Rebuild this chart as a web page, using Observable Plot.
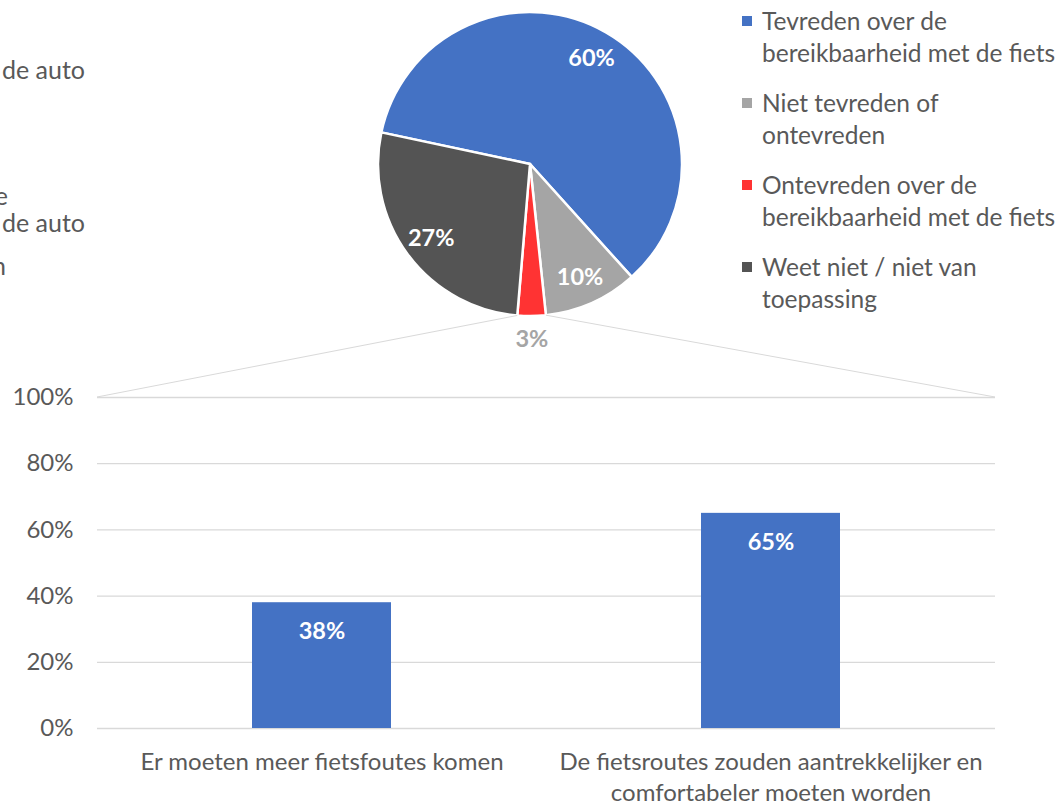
<!DOCTYPE html>
<html><head><meta charset="utf-8">
<script src="https://cdn.jsdelivr.net/npm/d3@7"></script>
<script src="https://cdn.jsdelivr.net/npm/@observablehq/plot@0.6"></script>
<style>
html,body{margin:0;padding:0;background:#fff;}
#chart svg{display:block;}
</style></head><body><div id="chart"></div>
<script>
// ---- data ----
const pieCategories = ["Tevreden over de bereikbaarheid met de fiets","Niet tevreden of ontevreden","Ontevreden over de bereikbaarheid met de fiets","Weet niet / niet van toepassing"];
const legendLines = [["Tevreden over de","bereikbaarheid met de fiets"],["Niet tevreden of","ontevreden"],["Ontevreden over de","bereikbaarheid met de fiets"],["Weet niet / niet van","toepassing"]];
const pieValues = [0.60, 0.10, 0.03, 0.27];
const pieColors = ["#4472C4","#A5A5A5","#FF3333","#545454"];
const barCategories = ["Er moeten meer fietsfoutes komen","De fietsroutes zouden aantrekkelijker en comfortabeler moeten worden"];
const barTickLabels = ["Er moeten meer fietsfoutes komen","De fietsroutes zouden aantrekkelijker en\ncomfortabeler moeten worden"];
const barValues = [0.38, 0.65];
const yTicks = [0, 0.2, 0.4, 0.6, 0.8, 1];
// cut-off legend of a neighbouring chart (only its right edge is visible)
const leftLegendLines = ["de auto","Ontevreden over de","de auto","Weet niet / niet van"];

const FONT = "Lato, 'Open Sans', sans-serif";
const TEXT = "#595959";
const pct = d3.format(".0%");

const bars = barCategories.map((c, i) => ({cat: c, value: barValues[i]}));
const pieData = pieCategories.map((c, i) => ({cat: c, value: pieValues[i], color: pieColors[i]}));

// custom mark: pie, connector lines and legends
function pieMark(index, scales, values, dims) {
  const g = d3.create("svg:g").attr("font-family", FONT).attr("text-anchor", "start");
  const cx = 530, cy = 164, r = 152;
  const start = -78 * Math.PI / 180;
  const arcs = d3.pie().sort(null).value(d => d.value).startAngle(start).endAngle(start + 2 * Math.PI)(pieData);
  const arc = d3.arc().innerRadius(0).outerRadius(r);
  const pg = g.append("g").attr("transform", `translate(${cx},${cy})`);
  pg.selectAll("path").data(arcs).join("path")
    .attr("d", arc).attr("fill", d => d.data.color)
    .attr("stroke", "#fff").attr("stroke-width", 2.5).attr("stroke-linejoin", "round");
  // labels
  pg.selectAll("text").data(arcs).join("text")
    .attr("transform", d => {
      const a = (d.startAngle + d.endAngle) / 2;
      const k = d.data.value < 0.05 ? 1.15 : 0.81;
      return `translate(${Math.sin(a) * r * k},${-Math.cos(a) * r * k})`;
    })
    .attr("text-anchor", "middle").attr("dy", "0.36em")
    .attr("font-weight", "bold").attr("font-size", 23.5)
    .attr("fill", d => d.data.value < 0.05 ? "#A5A5A5" : "#fff")
    .text(d => pct(d.data.value));
  // connector lines from the small slice to the bar chart corners
  const small = arcs[2];
  const pt = a => [cx + Math.sin(a) * r, cy - Math.cos(a) * r];
  const [x0, x1] = scales.x.range();
  const yTop = scales.y(1);
  const pA = pt(small.startAngle), pB = pt(small.endAngle);
  g.append("line").attr("x1", pA[0]).attr("y1", pA[1]).attr("x2", x1).attr("y2", yTop)
    .attr("stroke", "#D9D9D9").attr("stroke-width", 1);
  g.append("line").attr("x1", pB[0]).attr("y1", pB[1]).attr("x2", x0).attr("y2", yTop)
    .attr("stroke", "#D9D9D9").attr("stroke-width", 1);
  // legend
  const lg = g.append("g");
  const groupY = [21, 103, 185, 267];
  legendLines.forEach((lines, i) => {
    lg.append("rect").attr("x", 742).attr("y", groupY[i] - 5).attr("width", 10).attr("height", 10).attr("fill", pieColors[i]);
    lines.forEach((t, j) => {
      lg.append("text").attr("x", 762).attr("y", groupY[i] + j * 32).attr("dy", "0.35em")
        .attr("text-anchor", "start").attr("font-size", 24.5).attr("fill", TEXT).text(t);
    });
  });
  // cut-off left legend
  const leftY = [70, 196, 223, 266];
  const leftX = [85, 8, 85, 6];
  leftLegendLines.forEach((t, i) => {
    g.append("text").attr("x", leftX[i]).attr("y", leftY[i]).attr("dy", "0.35em")
      .attr("text-anchor", "end").attr("font-size", 25).attr("fill", TEXT).text(t);
  });
  return g.node();
}

const chart = Plot.plot({
  width: 1063,
  height: 805,
  marginTop: 397,
  marginBottom: 77,
  marginLeft: 97,
  marginRight: 68,
  style: {fontFamily: FONT, fontSize: "24px", color: TEXT, background: "#fff"},
  x: {domain: barCategories, paddingInner: 0.69, paddingOuter: 0.345, label: null},
  y: {domain: [0, 1], label: null},
  marks: [
    Plot.ruleY(yTicks, {stroke: "#D9D9D9", strokeWidth: 1.3}),
    Plot.barY(bars, {x: "cat", y: "value", fill: "#4472C4"}),
    Plot.text(bars, {x: "cat", y: "value", text: d => pct(d.value), dy: 29, fill: "#fff", fontWeight: "bold", fontSize: 23.5}),
    Plot.axisY({ticks: yTicks, tickFormat: pct, tickSize: 0, tickPadding: 24, fontSize: 24}),
    Plot.axisX({tickSize: 0, tickPadding: 19, fontSize: 24, lineHeight: 1.3, tickFormat: d => barTickLabels[barCategories.indexOf(d)]}),
    pieMark
  ]
});
document.getElementById("chart").append(chart);
</script>
</body></html>
